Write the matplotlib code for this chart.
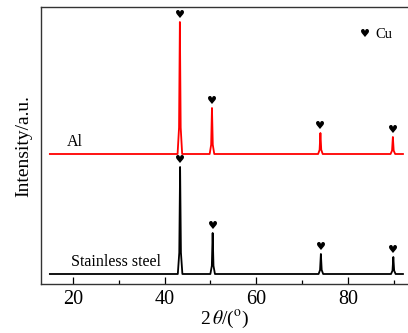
import numpy as np
import matplotlib
matplotlib.use('Agg')
import matplotlib.pyplot as plt

plt.rcParams['font.family'] = ['Liberation Serif', 'DejaVu Serif']
plt.rcParams['mathtext.fontset'] = 'stix'

# Cu peak positions (2theta) and heights
# intensity is in arbitrary units (stacked patterns)
ss_base = 10
ss_peaks_x = [43.4, 50.5, 74.1, 89.9]
ss_peaks_y = [117, 51, 30, 27]

al_base = 130
al_peaks_x = [43.35, 50.35, 74.0, 89.8]
al_peaks_y = [262, 176, 151, 147]

two_theta_start = 15.0
two_theta_end = 92.0

samples = ['Stainless steel', 'Al']
colors = ['black', 'red']


def pattern(base, px, py):
    # polyline through baseline and peak points
    xs = [two_theta_start]
    ys = [base]
    for p, h in zip(px, py):
        rise = h - base
        xs += [p - 0.5, p - 0.18, p, p + 0.18, p + 0.5]
        ys += [base, base + 0.2 * rise, h, base + 0.2 * rise, base]
    xs.append(two_theta_end)
    ys.append(base)
    return xs, ys


fig = plt.figure(figsize=(4.08, 3.33), dpi=100)
ax = fig.add_axes([40.7 / 408, 1 - 284 / 333, 1 - 40.7 / 408, (284 - 7.3) / 333])

for base, px, py, c in [(ss_base, ss_peaks_x, ss_peaks_y, colors[0]),
                        (al_base, al_peaks_x, al_peaks_y, colors[1])]:
    xs, ys = pattern(base, px, py)
    ax.plot(xs, ys, color=c, lw=1.3)
    for p, h in zip(px, py):
        ax.annotate('\u2665', xy=(p, h), xytext=(0, 5), textcoords='offset points',
                    ha='center', va='center', fontsize=8, family='DejaVu Sans')

ax.text(18.7, 138, samples[1], fontsize=11.5)
ax.text(19.5, 18, samples[0], fontsize=11.5)

# legend
ax.text(83.7, 250, '\u2665', fontsize=8, family='DejaVu Sans', ha='center', va='center')
ax.text(86.0, 250, 'Cu', fontsize=10.5, va='center')

ax.set_xlim(13, 93.1)
ax.set_ylim(0, 276.7)
ax.set_xticks([20, 40, 60, 80])
ax.set_xticks([30, 50, 70, 90], minor=True)
ax.set_yticks([])
ax.tick_params(axis='x', which='major', direction='in', length=5, width=0.9, labelsize=14.5, pad=4)
ax.tick_params(axis='x', which='minor', direction='in', length=3, width=0.9)
ax.spines['right'].set_visible(False)
for s in ['left', 'top', 'bottom']:
    ax.spines[s].set_linewidth(1.0)
    ax.spines[s].set_color('#333333')

ax.set_xlabel(r'2$\,\theta$/($^{\rm o}$)', fontsize=14, labelpad=0)
ax.set_ylabel('Intensity/a.u.', fontsize=14, labelpad=6)

fig.savefig('out.png', dpi=100)
